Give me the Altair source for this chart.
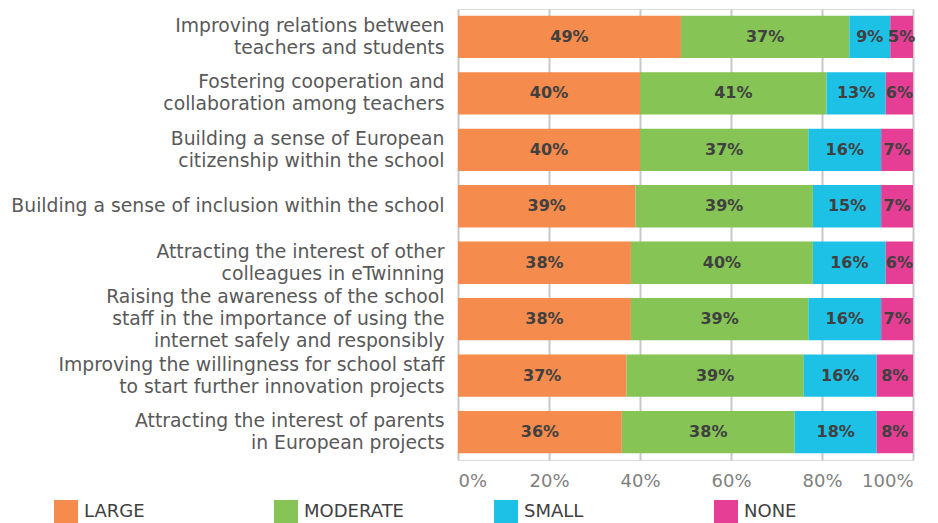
import altair as alt
import pandas as pd

categories = [
    "Improving relations between|teachers and students",
    "Fostering cooperation and|collaboration among teachers",
    "Building a sense of European|citizenship within the school",
    "Building a sense of inclusion within the school",
    "Attracting the interest of other|colleagues in eTwinning",
    "Raising the awareness of the school|staff in the importance of using the|internet safely and responsibly",
    "Improving the willingness for school staff|to start further innovation projects",
    "Attracting the interest of parents|in European projects",
]
series = ["LARGE", "MODERATE", "SMALL", "NONE"]
large = [49, 40, 40, 39, 38, 38, 37, 36]
moderate = [37, 41, 37, 39, 40, 39, 39, 38]
small = [9, 13, 16, 15, 16, 16, 16, 18]
none_ = [5, 6, 7, 7, 6, 7, 8, 8]
colors = ["#F58B4C", "#86C455", "#1EC1E6", "#E63E94"]

rows = []
for i, c in enumerate(categories):
    for j, (s, vals) in enumerate(zip(series, [large, moderate, small, none_])):
        rows.append({"cat": c, "series": s, "order": j, "value": vals[i]})
df = pd.DataFrame(rows)

FONT = "DejaVu Sans"

base = alt.Chart(df).transform_stack(
    stack="value", groupby=["cat"], sort=[alt.SortField("order")], as_=["x0", "x1"]
).transform_calculate(
    mid="(datum.x0 + datum.x1) / 2", lab="datum.value + '%'"
)

y_enc = alt.Y(
    "cat:N", sort=categories, title=None,
    scale=alt.Scale(paddingInner=0.25, paddingOuter=0.12),
    axis=alt.Axis(
        labelExpr="split(datum.value, '|')", labelLimit=460, labelFontSize=18.8,
        labelColor="#595959", labelFont=FONT, labelLineHeight=22, labelPadding=14,
        labelOffset={"expr": "-(length(split(datum.value, '|')) - 1) * 11"},
        ticks=False, domain=False, grid=False,
    ),
)

bars = base.mark_bar().encode(
    y=y_enc,
    x=alt.X("x0:Q", scale=alt.Scale(domain=[0, 100]), title=None,
            axis=alt.Axis(values=[0, 20, 40, 60, 80, 100], labelExpr="datum.value + '%'",
                          labelFontSize=18, labelColor="#808080", labelFont=FONT,
                          labelPadding=12, ticks=False, domain=False, grid=True,
                          gridColor="#C8C8C8", gridWidth=2)),
    x2="x1:Q",
    color=alt.Color("series:N", sort=series,
                    scale=alt.Scale(domain=series, range=colors),
                    legend=alt.Legend(
                        title=None, orient="none", legendX=-404, legendY=491,
                        direction="horizontal", columns=4, symbolType="square",
                        symbolSize=576, symbolStrokeWidth=0, labelFontSize=18,
                        labelColor="#404040", labelFont=FONT, labelOffset=6,
                        gridAlign="all", columnPadding=90,
                    )),
    order=alt.Order("order:Q"),
)

text = base.mark_text(font=FONT, fontSize=16, fontWeight="bold", color="#404040").encode(
    y=alt.Y("cat:N", sort=categories),
    x=alt.X("mid:Q"),
    text="lab:N",
)

chart = (bars + text).properties(
    width=455, height=451, autosize="none",
    padding={"left": 450, "top": 1, "right": 17, "bottom": 66},
).configure_view(stroke=None).configure(background="white")

chart.save("out.html", embed_options={"renderer": "svg", "actions": False})
